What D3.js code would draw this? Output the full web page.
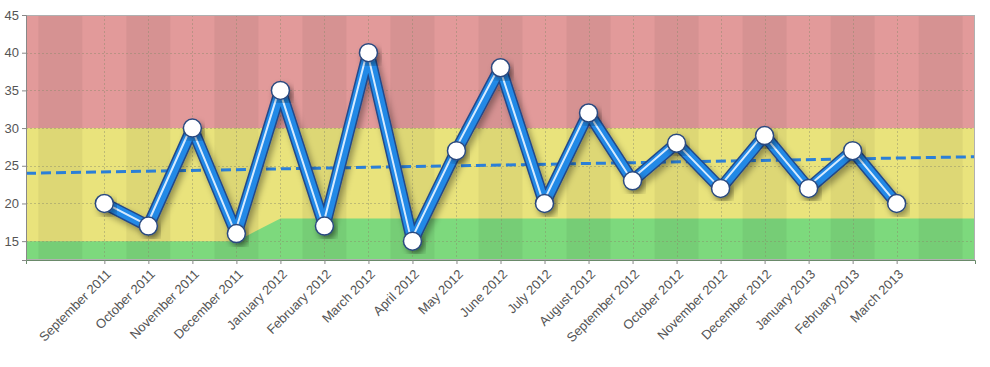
<!DOCTYPE html>
<html><head><meta charset="utf-8">
<script src="https://cdn.jsdelivr.net/npm/d3@7"></script>
<style>
html,body{margin:0;padding:0;background:#fff;}
text{font-family:"Liberation Sans",Arial,sans-serif;}
</style></head>
<body><svg id="chart" width="990" height="367"></svg>
<script>
const categories = ["September 2011","October 2011","November 2011","December 2011","January 2012","February 2012","March 2012","April 2012","May 2012","June 2012","July 2012","August 2012","September 2012","October 2012","November 2012","December 2012","January 2013","February 2013","March 2013"];
const values = [20,17,30,16,35,17,40,15,27,38,20,32,23,28,22,29,22,27,20];
const greenLimit = [15,15,15,15,18,18,18,18,18,18,18,18,18,18,18,18,18,18,18];
const redLimit = 30;
const trendStart = 24.0, trendEnd = 26.2;
const yTicks = [15,20,25,30,35,40,45];
const yDomain = [12.5,45];

const W = 990, H = 367;
const m = {left:26, right:15, top:15, bottom:107};
const svg = d3.select("#chart");
const x0 = m.left, x1 = W - m.right, yTop = m.top, yBot = H - m.bottom;

const x = d3.scalePoint().domain(categories).range([x0, x1]).padding(1.78);
const step = x.step();
const y = d3.scaleLinear().domain(yDomain).range([yBot, yTop]);

const defs = svg.append("defs");
defs.append("clipPath").attr("id","plot").append("rect")
  .attr("x",x0).attr("y",yTop).attr("width",x1-x0).attr("height",yBot-yTop);
const f = defs.append("filter").attr("id","shadow").attr("x","-20%").attr("y","-20%").attr("width","140%").attr("height","140%");
f.append("feDropShadow").attr("dx",3).attr("dy",4).attr("stdDeviation",3).attr("flood-color","#000").attr("flood-opacity",0.35);

const g = svg.append("g").attr("clip-path","url(#plot)");

// background zones
g.append("rect").attr("x",x0).attr("y",yTop).attr("width",x1-x0).attr("height",yBot-yTop).attr("fill","#e29a9a");
const ext = [{x:x0, v:greenLimit[0]}].concat(categories.map((c,i)=>({x:x(c), v:greenLimit[i]}))).concat([{x:x1, v:greenLimit[greenLimit.length-1]}]);
g.append("rect").attr("x",x0).attr("y",y(redLimit)).attr("width",x1-x0).attr("height",yBot-y(redLimit)).attr("fill","#e9e37c");
const area = d3.area().x(d=>d.x).y0(yBot).y1(d=>y(d.v));
g.append("path").datum(ext).attr("d",area).attr("fill","#7dd97d");

// stripes
const idx = d3.range(-2, categories.length+2);
g.selectAll("rect.stripe").data(idx.filter(i=>Math.abs(i)%2===1)).join("rect")
  .attr("class","stripe")
  .attr("x",i=>x(categories[0]) + i*step - step/2)
  .attr("width",step).attr("y",yTop).attr("height",yBot-yTop)
  .attr("fill","#000").attr("opacity",0.05);

// grid
const grid = g.append("g").attr("stroke","#8a8a6a").attr("stroke-opacity",0.45).attr("stroke-dasharray","2,2").attr("stroke-width",1);
grid.selectAll("line.h").data(yTicks).join("line").attr("x1",x0).attr("x2",x1)
  .attr("y1",d=>Math.round(y(d))+0.5).attr("y2",d=>Math.round(y(d))+0.5);
grid.selectAll("line.v").data(categories).join("line").attr("y1",yTop).attr("y2",yBot)
  .attr("x1",d=>Math.round(x(d))+0.5).attr("x2",d=>Math.round(x(d))+0.5);

// trend
g.append("line").attr("x1",x0).attr("x2",x1).attr("y1",y(trendStart)).attr("y2",y(trendEnd))
  .attr("stroke","#2a7fd8").attr("stroke-width",3).attr("stroke-dasharray","10,5");

// series
const pts = categories.map((c,i)=>[x(c), y(values[i])]);
const line = d3.line();
const sg = svg.append("g");
sg.append("path").attr("d",line(pts)).attr("fill","none").attr("stroke","#24498a").attr("stroke-width",12.5)
  .attr("stroke-linejoin","round").attr("filter","url(#shadow)");
sg.append("path").attr("d",line(pts)).attr("fill","none").attr("stroke","#2289e6").attr("stroke-width",9.5).attr("stroke-linejoin","round");
sg.append("path").attr("d",line(pts)).attr("fill","none").attr("stroke","#d6ebff").attr("stroke-width",2)
  .attr("stroke-linejoin","round").attr("transform","translate(-1.3,-1.3)");
sg.selectAll("circle").data(pts).join("circle").attr("cx",d=>d[0]).attr("cy",d=>d[1]).attr("r",9)
  .attr("fill","#fff").attr("stroke","#2a4a80").attr("stroke-width",1.5).attr("filter","url(#shadow)");

// frame
svg.append("rect").attr("x",x0+0.5).attr("y",yTop+0.5).attr("width",x1-x0-1).attr("height",yBot-yTop-1)
  .attr("fill","none").attr("stroke","#b0b0b0").attr("stroke-width",1);

// axes
const ya = svg.append("g").attr("transform",`translate(${x0},0)`)
  .call(d3.axisLeft(y).tickValues(yTicks).tickSize(4).tickPadding(3));
ya.select(".domain").attr("stroke","#888");
ya.selectAll(".tick line").attr("stroke","#888");
ya.selectAll("text").attr("font-size",13).attr("fill","#555").attr("font-family","Liberation Sans, Arial, sans-serif");

const xa = svg.append("g").attr("transform",`translate(0,${yBot})`)
  .call(d3.axisBottom(x).tickSize(4).tickPadding(0));
xa.select(".domain").attr("stroke","#6a8a6a");
xa.selectAll(".tick line").attr("stroke","#888");
xa.selectAll("text").attr("font-size",13).attr("fill","#555").attr("font-family","Liberation Sans, Arial, sans-serif")
  .attr("text-anchor","end").attr("dy",0).attr("y",0)
  .attr("transform","translate(7,15) rotate(-45)");
</script></body></html>
